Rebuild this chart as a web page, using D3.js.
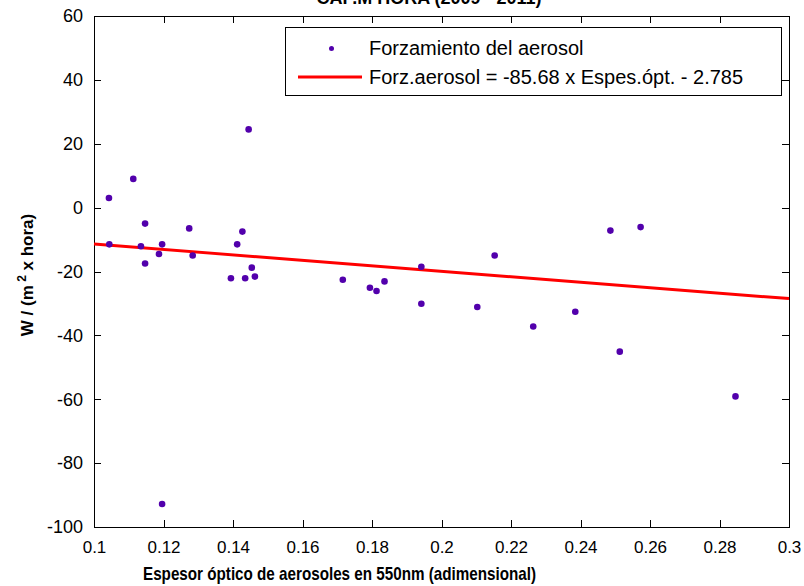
<!DOCTYPE html>
<html>
  <head>
    <meta charset="utf-8">
    <script src="https://d3js.org/d3.v7.min.js"></script>
    <style>
      body { margin: 0; background: #fff; }
      svg { font-family: "Liberation Sans", Arial, sans-serif; }
      .axis path, .axis line { fill: none; stroke: #000; shape-rendering: crispEdges; }
      .axis text { font-size: 17px; fill: #000; }
    </style>
  </head>
  <body>
    <script>
      // aerosol optical depth (550nm) and forcing W/(m2 x hora)
      var espesor = [0.1043, 0.1044, 0.1113, 0.1147, 0.1135, 0.1147, 0.1196, 0.1187,
                     0.1274, 0.1284, 0.1445, 0.1427, 0.1412, 0.1454, 0.1394, 0.1435,
                     0.1463, 0.1196, 0.1716, 0.1794, 0.1813, 0.1836, 0.1942, 0.1942,
                     0.2103, 0.2153, 0.2264, 0.2385, 0.2486, 0.2513, 0.2573, 0.2846];
      var forzamiento = [3.0, -11.5, 9.0, -5.0, -12.1, -17.5, -11.5, -14.5,
                         -6.5, -15.0, 24.5, -7.5, -11.5, -18.8, -22.1, -22.1,
                         -21.6, -92.8, -22.6, -25.1, -26.1, -23.1, -18.5, -30.1,
                         -31.1, -15.0, -37.2, -32.6, -7.2, -45.1, -6.1, -59.1];
      var ajuste = [-85.68, -2.785]; // pendiente, intercepto
      var xTicks = [0.1, 0.12, 0.14, 0.16, 0.18, 0.2, 0.22, 0.24, 0.26, 0.28, 0.3];
      var yTicks = [-100, -80, -60, -40, -20, 0, 20, 40, 60];
      var leyenda = ["Forzamiento del aerosol", "Forz.aerosol = -85.68 x Espes.\u00f3pt. - 2.785"];

      var margin = { top: 16, right: 15, bottom: 59, left: 94 },
        width = 804 - margin.left - margin.right,
        height = 586 - margin.top - margin.bottom;

      var x = d3.scaleLinear().domain([0.1, 0.3]).range([0, width]);
      var y = d3.scaleLinear().domain([-100, 60]).range([height, 0]);

      var svg = d3.select("body").append("svg")
        .attr("width", 804)
        .attr("height", 586);

      var g = svg.append("g")
        .attr("transform", "translate(" + margin.left + "," + margin.top + ")");

      // axes with inward ticks on all four sides
      var fmt = function(d) { return String(+d.toFixed(2)); };
      g.append("g").attr("class", "axis")
        .attr("transform", "translate(0," + height + ")")
        .call(d3.axisBottom(x).tickValues(xTicks).tickFormat(fmt).tickSizeInner(-7).tickSizeOuter(0).tickPadding(14));
      g.append("g").attr("class", "axis")
        .call(d3.axisTop(x).tickValues(xTicks).tickFormat("").tickSizeInner(-7).tickSizeOuter(0));
      g.append("g").attr("class", "axis")
        .call(d3.axisLeft(y).tickValues(yTicks).tickFormat(fmt).tickSizeInner(-7).tickSizeOuter(0).tickPadding(11))
        .selectAll("text").style("font-size", "18px");
      g.append("g").attr("class", "axis")
        .attr("transform", "translate(" + width + ",0)")
        .call(d3.axisRight(y).tickValues(yTicks).tickFormat("").tickSizeInner(-7).tickSizeOuter(0));

      // fitted line
      var lineX = d3.extent(xTicks);
      g.append("line")
        .attr("x1", x(lineX[0])).attr("y1", y(ajuste[0] * lineX[0] + ajuste[1]))
        .attr("x2", x(lineX[1])).attr("y2", y(ajuste[0] * lineX[1] + ajuste[1]))
        .attr("stroke", "#ff0000").attr("stroke-width", 3);

      // points
      g.selectAll(".pt")
        .data(espesor.map(function(d, i) { return [d, forzamiento[i]]; }))
        .enter().append("circle")
        .attr("class", "pt")
        .attr("cx", function(d) { return x(d[0]); })
        .attr("cy", function(d) { return y(d[1]); })
        .attr("r", 3.3)
        .attr("fill", "#5200ac");

      // legend
      var lg = svg.append("g");
      lg.append("rect")
        .attr("x", 285.5).attr("y", 27.5).attr("width", 496).attr("height", 68)
        .attr("fill", "#fff").attr("stroke", "#000").attr("stroke-width", 1);
      lg.append("circle").attr("cx", 331.5).attr("cy", 48.5).attr("r", 2.5).attr("fill", "#5200ac");
      lg.append("line").attr("x1", 298).attr("x2", 362).attr("y1", 77).attr("y2", 77)
        .attr("stroke", "#ff0000").attr("stroke-width", 3);
      lg.selectAll(".lt").data(leyenda).enter().append("text")
        .attr("x", 369)
        .attr("y", function(d, i) { return 55 + i * 29; })
        .style("font-size", "20px")
        .text(function(d) { return d; });

      // title (clipped at the top edge, as in the original figure)
      svg.append("text")
        .attr("x", 429).attr("y", 4)
        .attr("text-anchor", "middle")
        .style("font-size", "18px").style("font-weight", "bold")
        .text("CAP.M HORA (2009 - 2011)");

      // axis labels
      svg.append("text")
        .attr("x", 143).attr("y", 580)
        .attr("textLength", 393).attr("lengthAdjust", "spacingAndGlyphs")
        .style("font-size", "19px").style("font-weight", "bold")
        .text("Espesor \u00f3ptico de aerosoles en 550nm (adimensional)");

      var yl = svg.append("text")
        .attr("transform", "translate(33,275) rotate(-90)")
        .attr("text-anchor", "middle")
        .style("font-size", "17px").style("font-weight", "bold");
      yl.append("tspan").text("W / (m");
      yl.append("tspan").attr("dy", -7).style("font-size", "12px").text(" 2");
      yl.append("tspan").attr("dy", 7).text(" x hora)");
    </script>
  </body>
</html>
